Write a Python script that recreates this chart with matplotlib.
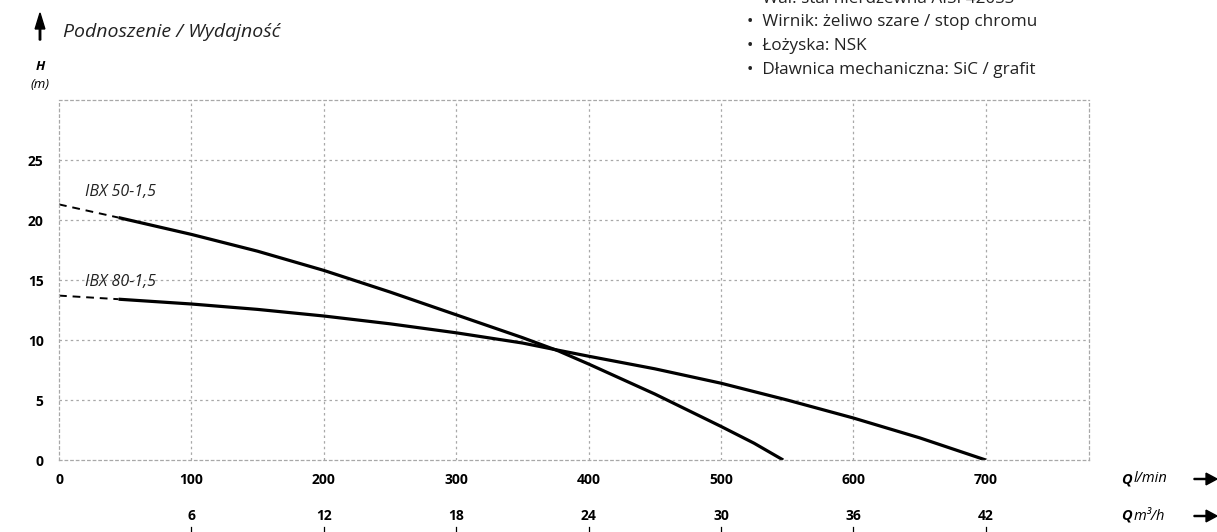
import matplotlib
matplotlib.use("Agg")
import matplotlib.pyplot as plt
from matplotlib.patches import FancyArrow
from matplotlib.transforms import blended_transform_factory

plt.rcParams['font.family'] = ['Open Sans', 'DejaVu Sans']

# Flow Q (l/min) and head H (m)
q_50 = [45, 100, 150, 200, 250, 300, 350, 377, 400, 450, 500, 525, 547]
h_50 = [20.2, 18.8, 17.4, 15.8, 14.0, 12.1, 10.2, 9.1, 8.0, 5.5, 2.8, 1.4, 0.0]
q_50_dash = [0, 45]
h_50_dash = [21.3, 20.2]

q_80 = [45, 100, 150, 200, 250, 300, 350, 377, 400, 450, 500, 550, 600, 650, 700]
h_80 = [13.4, 13.0, 12.55, 12.0, 11.35, 10.6, 9.75, 9.15, 8.65, 7.6, 6.4,
        5.0, 3.5, 1.85, 0.0]
q_80_dash = [0, 45]
h_80_dash = [13.7, 13.4]

x_ticks = [0, 100, 200, 300, 400, 500, 600, 700]
y_ticks = [0, 5, 10, 15, 20, 25]
m3h_ticks = [6, 12, 18, 24, 30, 36, 42]

specs = ["Wał: stal nierdzewna AISI 420SS",
         "Wirnik: żeliwo szare / stop chromu",
         "Łożyska: NSK",
         "Dławnica mechaniczna: SiC / grafit"]

W, H = 1217, 532
fig = plt.figure(figsize=(W / 100, H / 100), dpi=100)
ax = fig.add_axes([59 / W, 1 - 460 / H, 1030 / W, 360 / H])
ax.set_xlim(0, 778)
ax.set_ylim(0, 30)

grid_col = "#a8a8a8"
dots = (0, (2, 2.5))
for x in x_ticks[1:]:
    ax.axvline(x, color=grid_col, lw=0.9, ls=dots, zorder=0)
for y in y_ticks[1:]:
    ax.axhline(y, color=grid_col, lw=0.9, ls=dots, zorder=0)
for s in ax.spines.values():
    s.set_color(grid_col)
    s.set_linewidth(0.9)
    s.set_linestyle(dots)

# curves
ax.plot(q_50, h_50, color="black", lw=2.3, solid_capstyle="butt", solid_joinstyle="round")
ax.plot(q_50_dash, h_50_dash, color="black", lw=1.4, ls=(0, (4, 3)))
ax.plot(q_80, h_80, color="black", lw=2.3, solid_capstyle="butt", solid_joinstyle="round")
ax.plot(q_80_dash, h_80_dash, color="black", lw=1.4, ls=(0, (4, 3)))
ax.text(20, 22.0, "IBX 50-1,5", style="italic", fontsize=11.5, color="#222222")
ax.text(20, 14.5, "IBX 80-1,5", style="italic", fontsize=11.5, color="#222222")

ax.set_xticks(x_ticks)
ax.set_yticks(y_ticks)
ax.tick_params(length=0, labelsize=10)
ax.tick_params(axis="y", pad=11)
ax.tick_params(axis="x", pad=9)
for lab in ax.get_xticklabels() + ax.get_yticklabels():
    lab.set_fontweight("bold")

# second flow scale in m3/h
tr = blended_transform_factory(ax.transData, ax.transAxes)
for m in m3h_ticks:
    xq = m / 0.06
    ax.text(xq, (460 - 516) / 360, str(m), transform=tr, ha="center",
            va="center", fontsize=10, fontweight="bold")
    ax.plot([xq, xq], [(460 - 527) / 360, (460 - 534) / 360], transform=tr,
            color="black", lw=0.9, clip_on=False)

for yy, unit in ((479, "l/min"), (516, "m³/h")):
    fig.text(1121 / W, 1 - yy / H, "Q", fontsize=10.5, fontweight="bold",
             style="italic", va="center")
    fig.text(1134 / W, 1 - yy / H, unit, fontsize=10.5, style="italic",
             va="center")
    fig.patches.append(FancyArrow(
        1194 / W, 1 - yy / H, 23 / W, 0, width=0.002,
        head_width=0.022, head_length=0.009, length_includes_head=True,
        color="black", transform=fig.transFigure, figure=fig))

# header texts
fig.patches.append(FancyArrow(
    40 / W, 1 - 40 / H, 0, 27 / H, width=0.0012, head_width=0.008,
    head_length=0.03, length_includes_head=True, color="black",
    transform=fig.transFigure, figure=fig))
fig.text(63 / W, 1 - 32 / H, "Podnoszenie / Wydajność", fontsize=14,
         style="italic", va="center", color="#222222")
fig.text(40 / W, 1 - 66 / H, "H", fontsize=9.5, fontweight="bold",
         style="italic", ha="center", va="center")
fig.text(40 / W, 1 - 85 / H, "(m)", fontsize=9.5, style="italic",
         ha="center", va="center")

for i, s in enumerate(specs):
    fig.text(747 / W, 1 - (-1 + 23.5 * i) / H, "•  " + s, fontsize=12.3,
             va="center", color="#222222")

fig.savefig("out.png", dpi=100)
